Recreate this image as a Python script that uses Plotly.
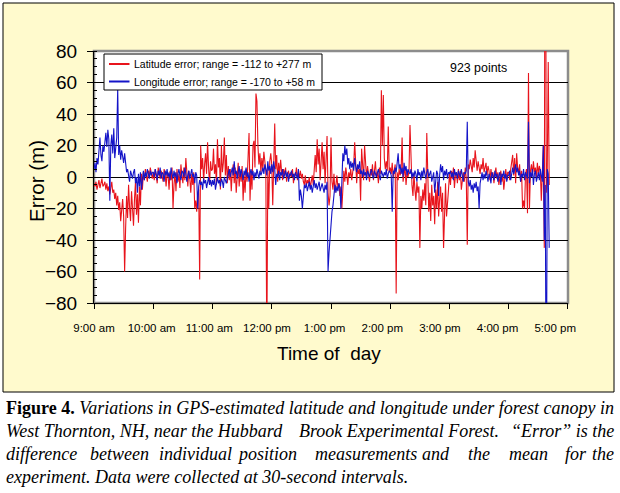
import pandas as pd
import plotly.graph_objects as go

# ---- data: error (m) at 1-minute steps starting 9:00 am ----
lat_0900 = [-4,-6,-3,-8,-5,-2,-7,-4,-1,-6, -5,-3,-8,-4,-9,-6,-11,-7,-3,-10,
            -8,-14,-10,-18,-12,-21,-16,-28,-22,-14, -25,-60,-33,-12,-26,-5,-19,-28,-9,-22,
            -31,-14,-3,-24,-11,-29,-6,-18,2,-8, 3,-2,5,1,-3,4,0,6,2,-1]
lat_1000 = [3,-2,5,1,-4,6,2,-1,4,0, -3,5,2,-6,3,1,-8,4,-2,6,
            -20,-5,3,-9,5,-3,2,-7,8,1, -4,6,-2,12,3,-6,4,-1,-10,2,
            -5,3,-20,-15,-22,-10,-8,-65,20,5, 12,-3,8,15,2,22,6,-5,10,4]
lat_1100 = [5,18,2,8,-5,24,6,12,-8,20, 3,9,25,1,14,-4,7,-2,5,-9,
            3,8,-4,6,-10,2,9,-6,4,-3, 7,-15,1,-10,5,-3,12,28,-15,4,
            -8,20,23,6,53,48,20,8,15,3, 12,5,16,9,4,-112,6,-20,10,15]
lat_1200 = [8,-18,12,34,5,14,-3,9,2,11, 3,-2,5,1,6,-3,2,4,-1,3,
            0,5,-4,2,1,6,-2,3,0,4, -1,2,-3,-5,1,-6,-2,-4,0,-7,
            -3,1,-5,6,14,3,24,8,18,-2, 10,22,5,16,-4,12,26,-10,-18,-12]
lat_1300 = [25,-3,-8,2,-10,-5,1,-7,-4,-12, -6,-20,-2,4,-3,6,1,-5,3,0,
            5,-2,3,8,22,1,-4,6,2,5, -15,18,3,-2,20,4,-1,7,2,-3,
            5,1,8,-2,4,10,0,3,-4,6, 2,55,20,52,12,5,10,4,32,3]
lat_1400 = [6,2,9,0,4,8,-74,3,-2,5, 1,4,25,-3,2,6,-5,3,0,4,
            33,10,-5,-12,2,-8,-15,-3,-10,-6, -45,-12,-20,-8,-15,-4,-18,28,-6,-22,
            -10,-28,-5,-18,-12,-30,-8,-20,-3,-25, -14,-6,-22,-10,-45,-16,-4,-25,-12,-8]
lat_1500 = [2,-5,4,-1,6,-7,1,3,-4,5, -2,4,-8,0,3,-3,6,-1,-43,8,
            5,11,7,3,12,6,17,9,4,10, 7,2,8,5,12,3,6,9,1,7,
            4,-2,5,0,3,-4,2,6,-1,3, -5,1,4,-3,2,-8,0,5,-2,3]
lat_1600 = [3,-2,5,10,14,1,12,-4,15,6, 2,8,-3,4,-20,-15,-20,2,5,-23,
            66,-20,4,8,1,10,3,6,0,9, 2,7,4,-15,6,20,-45,277,-10,4,
            73,-5]

lon_0900 = [5,9,3,12,8,18,25,14,10,20, 16,22,28,19,30,24,-15,20,27,15,
            31,12,18,25,56,14,20,11,17,13, 9,15,6,3,5,2,-3,4,1,-1,
            3,5,-4,0,-10,2,-6,3,-8,1, 4,-2,3,0,5,2,-1,4,1,3]
lon_1000 = [3,0,5,2,-2,4,1,6,-1,3, 2,-3,4,1,5,0,3,-2,6,2,
            -1,4,0,3,-4,2,5,1,-2,4, 3,0,6,2,-3,1,4,-1,3,5,
            0,2,-4,3,1,-20,-6,-2,-5,-3, -8,-1,-4,-2,-7,-3,0,-5,-2,-6]
lon_1100 = [-2,-5,-1,-8,-3,0,-4,-2,-6,-1, -3,-7,0,-2,-4,-1,2,5,0,3,
            6,1,10,2,4,-1,3,7,0,5, 2,-2,4,1,6,0,3,-3,2,5,
            1,4,-2,3,0,5,2,-1,4,1, 3,6,2,8,5,1,10,4,7,2]
lon_1200 = [8,3,10,5,-5,2,0,4,-2,3, 1,5,-1,2,4,0,3,-3,2,1,
            4,0,2,-2,3,1,-1,5,-15,-8, -12,-20,-10,-5,-7,-4,-9,-6,-3,-8,
            -5,-10,-6,-2,-7,-4,-8,-5,-3,-9, -6,-4,-7,-10,-5,-8,-3,-60,-48,-38]
lon_1300 = [-30,-22,-18,-8,-5,-10,-6,-9,-4,-7, -20,-3,15,10,20,14,18,8,12,5,
            10,6,9,4,12,7,3,8,5,10, 2,4,0,5,1,3,-2,4,2,0,
            3,5,1,-1,4,2,0,3,5,1, -2,4,2,0,3,1,5,-1,2,4]
lon_1400 = [3,1,-22,4,2,6,3,10,15,5, 8,2,6,0,9,4,7,1,5,3,
            2,5,-1,3,0,4,2,-3,5,1, 3,-2,4,0,6,2,-1,3,5,0,
            2,4,-3,1,3,-10,0,4,2,-12, 1,8,3,7,-2,4,1,5,-1,3]
lon_1500 = [2,4,0,3,-2,5,1,3,-1,4, 2,0,5,1,-3,3,2,4,35,-3,
            -6,-2,-8,-5,-10,-4,-7,-3,-9,-6, -20,-4,0,3,-2,2,-1,4,1,-3,
            2,0,-4,3,1,-2,4,0,2,-3, 1,3,-5,2,0,4,-1,2,-3,1]
lon_1600 = [1,4,-2,3,6,2,5,8,3,6, 1,4,-3,2,0,5,-2,3,1,-1,
            35,-4,3,0,5,-5,2,4,-3,1, 3,-2,5,1,-3,20,-40,-5,-170,5,
            2,-45]

tick_labels = ["9:00 am", "10:00 am", "11:00 am", "12:00 pm", "1:00 pm",
               "2:00 pm", "3:00 pm", "4:00 pm", "5:00 pm"]
y_ticks = [-80, -60, -40, -20, 0, 20, 40, 60, 80]
series_names = ["Latitude error; range = -112 to +277 m",
                "Longitude error; range = -170 to +58 m"]
series_colors = ["#E8141C", "#1414C8"]

latitude = lat_0900 + lat_1000 + lat_1100 + lat_1200 + lat_1300 + lat_1400 + lat_1500 + lat_1600
longitude = lon_0900 + lon_1000 + lon_1100 + lon_1200 + lon_1300 + lon_1400 + lon_1500 + lon_1600
times = pd.date_range("2004-06-15 09:00", periods=len(latitude), freq="1min")
tick_times = pd.date_range("2004-06-15 09:00", periods=len(tick_labels), freq="1h")
# in the original the labels drift a little left of their ticks; trailing
# no-break spaces reproduce that drift
tick_text = [lab + "\u00a0" * i for i, lab in enumerate(tick_labels)]

# ---- layout helpers (pixel -> paper) ----
L, R, T, B = 94, 568, 51, 303
def xp(px):
    return (px - L) / (R - L)
def yp(py):
    return (B - py) / (B - T)

fig = go.Figure()
fig.add_trace(go.Scatter(x=times, y=latitude, mode="lines",
                         line=dict(color=series_colors[0], width=1.1),
                         name=series_names[0], showlegend=False))
fig.add_trace(go.Scatter(x=times, y=longitude, mode="lines",
                         line=dict(color=series_colors[1], width=1.1),
                         name=series_names[1], showlegend=False))

sans = "Liberation Sans, Arial, sans-serif"
serif = "Liberation Serif, Times New Roman, serif"

shapes = [
    dict(type="rect", xref="paper", yref="paper", layer="below",
         x0=xp(3), x1=xp(614), y0=yp(392), y1=yp(3),
         fillcolor="#FFFACD", line=dict(color="black", width=1)),
    dict(type="rect", xref="paper", yref="paper", layer="below",
         x0=0, x1=1, y0=0, y1=1,
         fillcolor="white", line=dict(color="#8C8C8C", width=2.5)),
    # legend box
    dict(type="rect", xref="paper", yref="paper", layer="above",
         x0=xp(104), x1=xp(322), y0=yp(90), y1=yp(54),
         fillcolor="white", line=dict(color="black", width=1)),
]
legend_rows = [64, 81.5]
for name, col, ry in zip(series_names, series_colors, legend_rows):
    shapes.append(dict(type="line", xref="paper", yref="paper", layer="above",
                       x0=xp(109), x1=xp(129.5), y0=yp(ry), y1=yp(ry),
                       line=dict(color=col, width=2)))

annotations = []
for name, ry in zip(series_names, legend_rows):
    annotations.append(dict(text=name, x=xp(131.5), y=yp(ry), xref="paper", yref="paper",
                            xanchor="left", yanchor="middle", showarrow=False,
                            font=dict(family=sans, size=10.5, color="black")))
annotations += [
    dict(text="923 points", x=xp(478.5), y=yp(68), xref="paper", yref="paper",
         xanchor="center", yanchor="middle", showarrow=False,
         font=dict(family=sans, size=12.4, color="black")),
    dict(text="Time of  day", x=xp(329), y=yp(353), xref="paper", yref="paper",
         xanchor="center", yanchor="middle", showarrow=False,
         font=dict(family=sans, size=19, color="black")),
    dict(text="Error (m)", x=xp(36), y=yp(181), xref="paper", yref="paper",
         xanchor="center", yanchor="middle", showarrow=False, textangle=-90,
         font=dict(family=sans, size=20.5, color="black")),
]

cap = dict(xref="paper", yref="paper", yanchor="middle", showarrow=False,
           font=dict(family=serif, size=18, color="black"))
# line 1
annotations.append(dict(cap, text="<b>Figure 4.</b> <i>Variations in GPS-estimated latitude and longitude under forest canopy in</i>",
                        x=xp(4), y=yp(408), xanchor="left"))
# line 2 (justified: split in three parts)
annotations.append(dict(cap, text="<i>West Thornton, NH, near the Hubbard</i>",
                        x=xp(4), y=yp(431), xanchor="left"))
annotations.append(dict(cap, text="<i>Brook Experimental Forest.</i>",
                        x=xp(297), y=yp(431), xanchor="left"))
annotations.append(dict(cap, text="<i>\u201cError\u201d is the</i>",
                        x=xp(616), y=yp(431), xanchor="right"))
# line 3 (justified word by word)
line3_words = ["difference", "between", "individual", "position", "measurements",
               "and", "the", "mean", "for"]
line3_x = [4, 88, 157, 235, 313, 420, 466, 507, 563]
for w, wx in zip(line3_words, line3_x):
    annotations.append(dict(cap, text="<i>" + w + "</i>", x=xp(wx), y=yp(454), xanchor="left"))
annotations.append(dict(cap, text="<i>the</i>", x=xp(616), y=yp(454), xanchor="right"))
# line 4
annotations.append(dict(cap, text="<i>experiment. Data were collected at 30-second intervals.</i>",
                        x=xp(4), y=yp(477), xanchor="left"))

x_range = [tick_times[0] - pd.Timedelta(seconds=1), tick_times[-1] + pd.Timedelta(seconds=1)]
fig.update_layout(
    width=620, height=493,
    margin=dict(l=L, r=620 - R, t=T, b=493 - B),
    paper_bgcolor="white",
    plot_bgcolor="rgba(0,0,0,0)",
    showlegend=False,
    shapes=shapes,
    annotations=annotations,
    xaxis=dict(range=x_range, tickvals=list(tick_times), ticktext=tick_text,
               tickangle=0, ticks="outside", ticklen=5, tickcolor="black",
               showline=True, linecolor="black", linewidth=1, showgrid=False,
               zeroline=False, ticklabelstandoff=9,
               tickfont=dict(family=sans, size=11.5, color="black")),
    yaxis=dict(range=[-80, 80], tickvals=y_ticks, ticks="outside", ticklen=6,
               tickcolor="black", showline=True, linecolor="black", linewidth=1,
               showgrid=True, gridcolor="black", gridwidth=1, zeroline=False,
               ticklabelstandoff=6,
               minor=dict(dtick=5, ticks="inside", ticklen=3, tickcolor="black", showgrid=False),
               tickfont=dict(family=sans, size=19, color="black")),
)

fig.write_html("out.html", config={"displayModeBar": False},
               post_script="document.body.style.margin='0px';")
